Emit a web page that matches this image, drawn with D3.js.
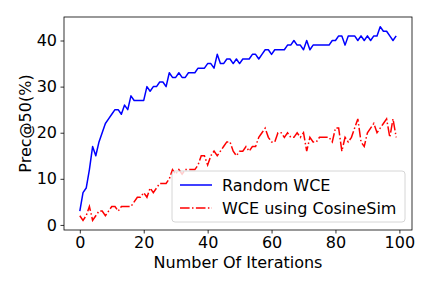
<!DOCTYPE html>
<html>
<head>
<meta charset="utf-8">
<script src="https://cdn.jsdelivr.net/npm/d3@7"></script>
<style>
  body { margin: 0; background: #fff; }
  text { font-family: "DejaVu Sans", sans-serif; fill: #000; }
  .axis path, .axis line { stroke: #000; stroke-width: 0.8; }
  .axis text { font-size: 16px; }
</style>
</head>
<body>
<div id="chart"></div>
<script>
// values
var iterations = d3.range(0, 100);
var randomWCE = [3, 7, 8, 12, 17, 15, 18, 20, 22, 23, 24, 25, 25, 24, 26, 25, 28, 27, 27, 27,
  27, 30, 29, 30, 30, 31, 31, 30, 33, 32, 32, 33, 32, 32, 33, 33, 33, 34, 34, 34,
  35, 35, 34, 37, 35, 35, 36, 36, 35, 36, 35, 36, 36, 36, 37, 37, 36, 37, 38, 38,
  37, 38, 38, 38, 38, 39, 39, 40, 39, 39, 38, 40, 38, 39, 39, 39, 39, 39, 39, 40,
  40, 41, 41, 39, 41, 41, 41, 40, 41, 40, 41, 40, 41, 41, 43, 42, 42, 41, 40, 41];
var cosineWCE = [2, 1, 2, 4, 1, 2, 3, 3, 2, 3, 4, 4, 3, 4, 4, 4, 4, 5, 6, 6,
  7, 6, 8, 7, 8, 9, 9, 9, 10, 12, 11, 12, 11, 12, 12, 12, 12, 13, 15, 15,
  13, 15, 16, 15, 16, 17, 18, 18, 16, 15, 16, 16, 17, 16, 17, 17, 19, 20, 21, 19,
  18, 18, 20, 20, 19, 20, 19, 19, 20, 19, 20, 16, 19, 18, 18, 19, 19, 19, 19, 18,
  21, 21, 16, 19, 18, 19, 21, 23, 18, 17, 20, 21, 22, 20, 21, 22, 23, 19, 23, 19];
var seriesNames = ["Random WCE", "WCE using CosineSim"];
var xTicks = [0, 20, 40, 60, 80, 100];
var yTicks = [0, 10, 20, 30, 40];

var svg = d3.select("#chart")
    .append("svg")
    .attr("width", 432)
    .attr("height", 288);

var margin = {top: 17, right: 20, bottom: 58, left: 64},
    width = 432 - margin.left - margin.right,
    height = 288 - margin.top - margin.bottom;

var x = d3.scaleLinear().domain([-4.95, 103.95]).range([0, width]),
    y = d3.scaleLinear().domain([-1.1, 45.1]).range([height, 0]);

var g = svg.append("g")
    .attr("transform", "translate(" + margin.left + "," + margin.top + ")");

var line = function (vals) {
  return d3.line()
      .x(function (d, i) { return x(iterations[i]); })
      .y(function (d) { return y(d); })(vals);
};

g.append("path")
    .attr("d", line(randomWCE))
    .attr("fill", "none")
    .attr("stroke", "#0000ff")
    .attr("stroke-width", 1.5)
    .attr("stroke-linejoin", "round");

g.append("path")
    .attr("d", line(cosineWCE))
    .attr("fill", "none")
    .attr("stroke", "#ff0000")
    .attr("stroke-width", 1.5)
    .attr("stroke-dasharray", "9.6,2.4,1.5,2.4");

// axes
g.append("g")
    .attr("class", "axis")
    .attr("transform", "translate(0," + height + ")")
    .call(d3.axisBottom(x).tickValues(xTicks).tickSize(3.5).tickPadding(3.5).tickSizeOuter(0))
    .call(function (a) { a.select(".domain").remove(); });

g.append("g")
    .attr("class", "axis")
    .call(d3.axisLeft(y).tickValues(yTicks).tickSize(3.5).tickPadding(3.5).tickSizeOuter(0))
    .call(function (a) { a.select(".domain").remove(); });

g.append("rect")
    .attr("width", width)
    .attr("height", height)
    .attr("fill", "none")
    .attr("stroke", "#000")
    .attr("stroke-width", 0.8);

svg.append("text")
    .attr("x", margin.left + width / 2)
    .attr("y", 268)
    .attr("text-anchor", "middle")
    .style("font-size", "16px")
    .text("Number Of Iterations");

svg.append("text")
    .attr("transform", "translate(31," + (margin.top + height / 2) + ") rotate(-90)")
    .attr("text-anchor", "middle")
    .style("font-size", "16px")
    .text("Prec@50(%)");

// legend
var legend = svg.append("g").attr("transform", "translate(172,171)");
legend.append("rect")
    .attr("width", 233)
    .attr("height", 51)
    .attr("rx", 3)
    .attr("fill", "#fff")
    .attr("fill-opacity", 0.8)
    .attr("stroke", "#cccccc")
    .attr("stroke-width", 0.8);

var colors = ["#0000ff", "#ff0000"],
    dashes = [null, "9.6,2.4,1.5,2.4"];

seriesNames.forEach(function (name, i) {
  var ly = 14 + i * 23;
  legend.append("line")
      .attr("x1", 8).attr("x2", 40)
      .attr("y1", ly).attr("y2", ly)
      .attr("stroke", colors[i])
      .attr("stroke-width", 1.5)
      .attr("stroke-dasharray", dashes[i]);
  legend.append("text")
      .attr("x", 50)
      .attr("y", ly + 6)
      .style("font-size", "16px")
      .text(name);
});
</script>
</body>
</html>
